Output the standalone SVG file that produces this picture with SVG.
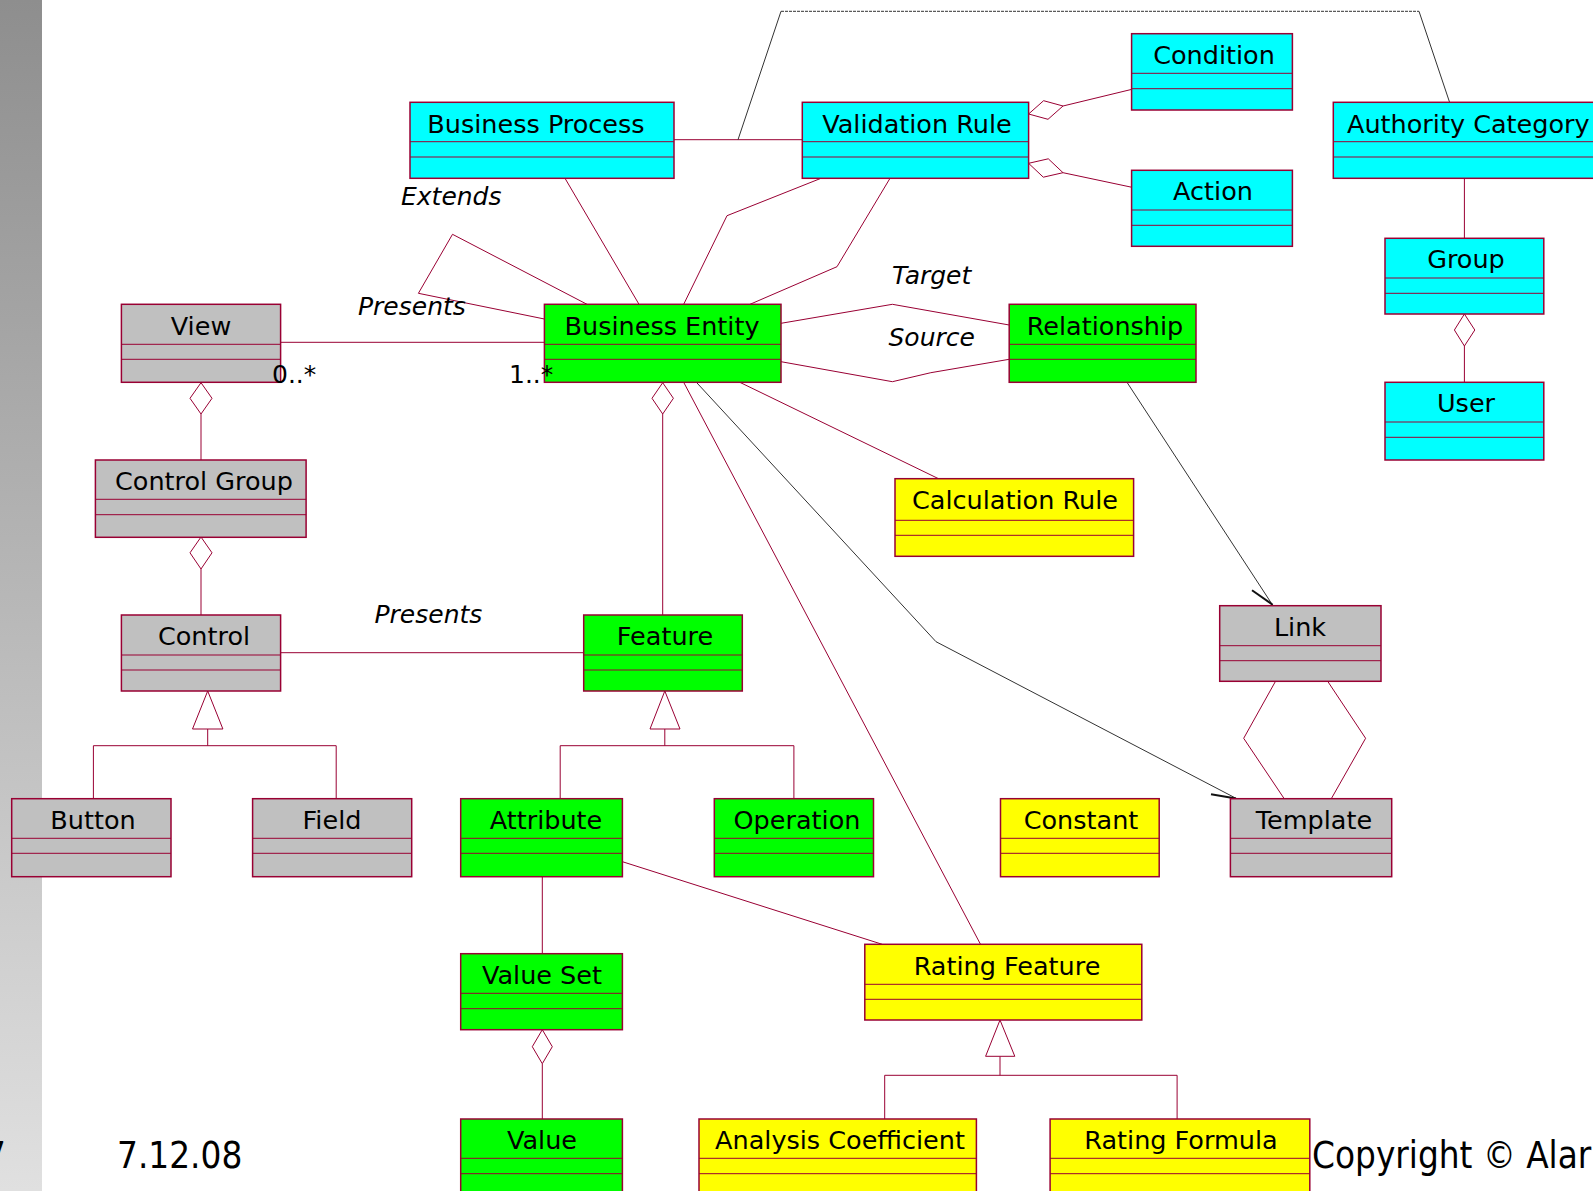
<svg xmlns="http://www.w3.org/2000/svg" width="1593" height="1191" viewBox="0 0 1593 1191">
  <defs>
    <linearGradient id="sidebar" x1="0" y1="0" x2="0" y2="1">
      <stop offset="0" stop-color="#8e8e8e"/>
      <stop offset="1" stop-color="#e0e0e0"/>
    </linearGradient>
  </defs>
  <style>
    .node rect { stroke: #990033; stroke-width: 1.5; }
    .node line { stroke: #990033; stroke-width: 1; }
    .cyan rect { fill: #00ffff; }
    .green rect { fill: #00ff00; }
    .yellow rect { fill: #ffff00; }
    .grey rect { fill: #c0c0c0; }
    text { font-family: "DejaVu Sans", "Liberation Sans", sans-serif; fill: #000; }
    .name { font-size: 25.5px; text-anchor: middle; }
    .role { font-size: 25px; font-style: italic; }
    .mult { font-size: 25px; }
    .footer { font-family: "DejaVu Sans Condensed", "DejaVu Sans", sans-serif; font-stretch: condensed; font-size: 36.5px; }
    .conn { fill: none; stroke: #990033; stroke-width: 1; }
    .agg { fill: #ffffff; stroke: #990033; stroke-width: 1; }
    .dep { fill: none; stroke: #333333; stroke-width: 1; }
    .dashed { stroke-dasharray: 3 1; }
    .barb { fill: none; stroke: #111111; stroke-width: 2; }
  </style>

  <!-- page side band -->
  <rect x="0" y="0" width="42" height="1191" fill="url(#sidebar)"/>

  <!-- connectors -->
  <g id="connectors">
    <!-- Business Process - Validation Rule -->
    <line class="conn" x1="674" y1="139.7" x2="802" y2="139.7"/>
    <!-- dependency over the top to Authority Category -->
    <line class="dep" x1="738" y1="139.7" x2="781" y2="11.3"/>
    <line class="dep dashed" x1="781" y1="11.3" x2="1419" y2="11.3"/>
    <line class="dep" x1="1419" y1="11.3" x2="1449.6" y2="102.3"/>
    <!-- Validation Rule aggregates Condition -->
    <polyline class="conn" points="1063,106 1132,89.3"/>
    <polygon class="agg" points="1028.6,114 1043.6,100.7 1063,106 1048,119.3"/>
    <!-- Validation Rule aggregates Action -->
    <polyline class="conn" points="1063,172.7 1132,187.3"/>
    <polygon class="agg" points="1028.6,163.3 1048.3,158.8 1063,172.7 1043.3,177.2"/>
    <!-- Business Process - Business Entity -->
    <line class="conn" x1="565" y1="178.3" x2="639" y2="304.3"/>
    <!-- Extends (self association) -->
    <polyline class="conn" points="587,304.3 452.5,234.3 418.4,293.3 544.4,319"/>
    <!-- Validation Rule - Business Entity -->
    <polyline class="conn" points="821,178.3 727,215.7 683.7,304.3"/>
    <polyline class="conn" points="890,178.3 837,266.7 750,304.3"/>
    <!-- View - Business Entity -->
    <line class="conn" x1="280.6" y1="342.3" x2="544.4" y2="342.3"/>
    <!-- Target / Source -->
    <polyline class="conn" points="781,323.3 892.4,304.3 1009.2,325"/>
    <polyline class="conn" points="781,361.7 892.4,381.7 930.8,372.7 1009.2,359.3"/>
    <!-- Authority Category - Group -->
    <line class="conn" x1="1464.4" y1="178.3" x2="1464.4" y2="238.3"/>
    <!-- Group aggregates User -->
    <line class="conn" x1="1464.4" y1="346" x2="1464.4" y2="382.3"/>
    <polygon class="agg" points="1464.4,314 1454.4,330 1464.4,346 1474.8,330"/>
    <!-- Relationship navigates to Link -->
    <line class="dep" x1="1127" y1="382.3" x2="1273" y2="605.7"/>
    <line class="barb" x1="1252" y1="590.3" x2="1272.7" y2="604.8"/>
    <!-- View aggregates Control Group -->
    <line class="conn" x1="201" y1="414" x2="201" y2="460"/>
    <polygon class="agg" points="201,382.7 190,398.3 201,414 212,398.3"/>
    <!-- Control Group aggregates Control -->
    <line class="conn" x1="201" y1="569" x2="201" y2="615"/>
    <polygon class="agg" points="201,537 190,552.8 201,569 212,552.8"/>
    <!-- Control - Feature -->
    <line class="conn" x1="280.6" y1="652.7" x2="584" y2="652.7"/>
    <!-- Business Entity aggregates Feature -->
    <line class="conn" x1="662.7" y1="414" x2="662.7" y2="615"/>
    <polygon class="agg" points="662.7,382.7 652,398.3 662.7,414 673.4,398.3"/>
    <!-- Control generalisation -->
    <polyline class="conn" points="93.4,799 93.4,745.7 336.2,745.7 336.2,799"/>
    <line class="conn" x1="207.7" y1="729" x2="207.7" y2="745.7"/>
    <polygon class="agg" points="207.7,691 192.5,729 222.9,729"/>
    <!-- Feature generalisation -->
    <polyline class="conn" points="560.2,799 560.2,745.7 793.9,745.7 793.9,799"/>
    <line class="conn" x1="664.8" y1="729" x2="664.8" y2="745.7"/>
    <polygon class="agg" points="664.8,691 650,729 680,729"/>
    <!-- Business Entity - Rating Feature -->
    <line class="conn" x1="683.7" y1="382.3" x2="980.5" y2="944.3"/>
    <!-- Business Entity navigates to Template -->
    <polyline class="dep" points="696.4,382.3 936,641.7 1236,798.3"/>
    <line class="barb" x1="1211" y1="794.3" x2="1236" y2="798.6"/>
    <!-- Business Entity - Calculation Rule -->
    <line class="conn" x1="739.8" y1="382.3" x2="938.5" y2="478.7"/>
    <!-- Link - Template -->
    <polyline class="conn" points="1275.5,681.3 1243.7,738.3 1284.2,798.7"/>
    <polyline class="conn" points="1327.7,681.3 1365.6,738.3 1331.3,798.7"/>
    <!-- Attribute - Value Set -->
    <line class="conn" x1="542.3" y1="876.7" x2="542.3" y2="953.7"/>
    <!-- Value Set aggregates Value -->
    <line class="conn" x1="542.3" y1="1063.7" x2="542.3" y2="1119"/>
    <polygon class="agg" points="542.3,1029.7 532.3,1046.7 542.3,1063.7 552.3,1046.7"/>
    <!-- Attribute - Rating Feature -->
    <line class="conn" x1="622.4" y1="861.7" x2="882.2" y2="944.3"/>
    <!-- Rating Feature generalisation -->
    <polyline class="conn" points="884.7,1119 884.7,1075.3 1177.1,1075.3 1177.1,1119"/>
    <line class="conn" x1="1000" y1="1056.3" x2="1000" y2="1075.3"/>
    <polygon class="agg" points="1000,1020 985.6,1056.3 1014.8,1056.3"/>

    <!-- association labels -->
    <text class="role" x="401" y="205">Extends</text>
    <text class="role" x="358" y="315">Presents</text>
    <text class="role" x="374.5" y="623">Presents</text>
    <text class="role" x="892" y="284">Target</text>
    <text class="role" x="888.5" y="346">Source</text>
  </g>

  <!-- classes -->
  <g id="business-process" class="node cyan">
    <rect x="410" y="102.3" width="264" height="76"/>
    <line x1="410" y1="141.7" x2="674" y2="141.7"/><line x1="410" y1="157" x2="674" y2="157"/>
    <text class="name" x="536" y="132.5">Business Process</text>
  </g>
  <g id="validation-rule" class="node cyan">
    <rect x="802.3" y="102.3" width="226.3" height="76"/>
    <line x1="802.3" y1="141.7" x2="1028.6" y2="141.7"/><line x1="802.3" y1="157" x2="1028.6" y2="157"/>
    <text class="name" x="917" y="132.5">Validation Rule</text>
  </g>
  <g id="condition" class="node cyan">
    <rect x="1131.6" y="33.7" width="160.8" height="76.3"/>
    <line x1="1131.6" y1="73.3" x2="1292.4" y2="73.3"/><line x1="1131.6" y1="88.7" x2="1292.4" y2="88.7"/>
    <text class="name" x="1214" y="64">Condition</text>
  </g>
  <g id="action" class="node cyan">
    <rect x="1131.6" y="170.3" width="160.8" height="76"/>
    <line x1="1131.6" y1="210" x2="1292.4" y2="210"/><line x1="1131.6" y1="225.3" x2="1292.4" y2="225.3"/>
    <text class="name" x="1213" y="200">Action</text>
  </g>
  <g id="authority-category" class="node cyan">
    <rect x="1333.3" y="102.3" width="280" height="76"/>
    <line x1="1333.3" y1="141.7" x2="1613" y2="141.7"/><line x1="1333.3" y1="157" x2="1613" y2="157"/>
    <text class="name" x="1347" y="132.5" style="text-anchor:start">Authority Category</text>
  </g>
  <g id="group" class="node cyan">
    <rect x="1385" y="238.3" width="158.8" height="75.7"/>
    <line x1="1385" y1="278" x2="1543.8" y2="278"/><line x1="1385" y1="293.3" x2="1543.8" y2="293.3"/>
    <text class="name" x="1466" y="268">Group</text>
  </g>
  <g id="user" class="node cyan">
    <rect x="1385" y="382.3" width="158.8" height="77.7"/>
    <line x1="1385" y1="422" x2="1543.8" y2="422"/><line x1="1385" y1="437.3" x2="1543.8" y2="437.3"/>
    <text class="name" x="1466" y="412">User</text>
  </g>
  <g id="view" class="node grey">
    <rect x="121.4" y="304.3" width="159.2" height="78"/>
    <line x1="121.4" y1="344.3" x2="280.6" y2="344.3"/><line x1="121.4" y1="359.3" x2="280.6" y2="359.3"/>
    <text class="name" x="201" y="335">View</text>
  </g>
  <g id="business-entity" class="node green">
    <rect x="544.4" y="304.3" width="236.6" height="78"/>
    <line x1="544.4" y1="344.3" x2="781" y2="344.3"/><line x1="544.4" y1="359.3" x2="781" y2="359.3"/>
    <text class="name" x="662" y="335">Business Entity</text>
  </g>
  <g id="relationship" class="node green">
    <rect x="1009.2" y="304.3" width="186.8" height="78"/>
    <line x1="1009.2" y1="344.3" x2="1196" y2="344.3"/><line x1="1009.2" y1="359.3" x2="1196" y2="359.3"/>
    <text class="name" x="1105" y="335">Relationship</text>
  </g>
  <g id="control-group" class="node grey">
    <rect x="95.4" y="460" width="210.7" height="77.3"/>
    <line x1="95.4" y1="499.3" x2="306.1" y2="499.3"/><line x1="95.4" y1="514.7" x2="306.1" y2="514.7"/>
    <text class="name" x="204" y="490">Control Group</text>
  </g>
  <g id="calculation-rule" class="node yellow">
    <rect x="895" y="478.7" width="238.6" height="77.6"/>
    <line x1="895" y1="520.3" x2="1133.6" y2="520.3"/><line x1="895" y1="535.3" x2="1133.6" y2="535.3"/>
    <text class="name" x="1015" y="509">Calculation Rule</text>
  </g>
  <g id="control" class="node grey">
    <rect x="121.4" y="615" width="159.2" height="76"/>
    <line x1="121.4" y1="655" x2="280.6" y2="655"/><line x1="121.4" y1="670" x2="280.6" y2="670"/>
    <text class="name" x="204" y="645">Control</text>
  </g>
  <g id="feature" class="node green">
    <rect x="583.7" y="615" width="158.6" height="76"/>
    <line x1="583.7" y1="655" x2="742.3" y2="655"/><line x1="583.7" y1="670" x2="742.3" y2="670"/>
    <text class="name" x="665" y="645">Feature</text>
  </g>
  <g id="link" class="node grey">
    <rect x="1219.7" y="605.7" width="161.3" height="75.6"/>
    <line x1="1219.7" y1="645.7" x2="1381" y2="645.7"/><line x1="1219.7" y1="660.7" x2="1381" y2="660.7"/>
    <text class="name" x="1300" y="636">Link</text>
  </g>
  <g id="button" class="node grey">
    <rect x="11.7" y="798.7" width="159.3" height="78"/>
    <line x1="11.7" y1="838.3" x2="171" y2="838.3"/><line x1="11.7" y1="853.3" x2="171" y2="853.3"/>
    <text class="name" x="93" y="829">Button</text>
  </g>
  <g id="field" class="node grey">
    <rect x="252.6" y="798.7" width="159.1" height="78"/>
    <line x1="252.6" y1="838.3" x2="411.7" y2="838.3"/><line x1="252.6" y1="853.3" x2="411.7" y2="853.3"/>
    <text class="name" x="332" y="829">Field</text>
  </g>
  <g id="attribute" class="node green">
    <rect x="460.7" y="798.7" width="161.7" height="78"/>
    <line x1="460.7" y1="838.3" x2="622.4" y2="838.3"/><line x1="460.7" y1="853.3" x2="622.4" y2="853.3"/>
    <text class="name" x="546" y="829">Attribute</text>
  </g>
  <g id="operation" class="node green">
    <rect x="714.3" y="798.7" width="159.2" height="78"/>
    <line x1="714.3" y1="838.3" x2="873.5" y2="838.3"/><line x1="714.3" y1="853.3" x2="873.5" y2="853.3"/>
    <text class="name" x="797" y="829">Operation</text>
  </g>
  <g id="constant" class="node yellow">
    <rect x="1000.5" y="798.7" width="158.7" height="78"/>
    <line x1="1000.5" y1="838.3" x2="1159.2" y2="838.3"/><line x1="1000.5" y1="853.3" x2="1159.2" y2="853.3"/>
    <text class="name" x="1081" y="829">Constant</text>
  </g>
  <g id="template" class="node grey">
    <rect x="1230.4" y="798.7" width="161.3" height="78"/>
    <line x1="1230.4" y1="838.3" x2="1391.7" y2="838.3"/><line x1="1230.4" y1="853.3" x2="1391.7" y2="853.3"/>
    <text class="name" x="1314" y="829">Template</text>
  </g>
  <g id="value-set" class="node green">
    <rect x="460.7" y="953.7" width="161.7" height="76"/>
    <line x1="460.7" y1="993.3" x2="622.4" y2="993.3"/><line x1="460.7" y1="1008.7" x2="622.4" y2="1008.7"/>
    <text class="name" x="542" y="984">Value Set</text>
  </g>
  <g id="rating-feature" class="node yellow">
    <rect x="864.8" y="944.3" width="277" height="75.7"/>
    <line x1="864.8" y1="984.3" x2="1141.8" y2="984.3"/><line x1="864.8" y1="999.3" x2="1141.8" y2="999.3"/>
    <text class="name" x="1007" y="975">Rating Feature</text>
  </g>
  <g id="value" class="node green">
    <rect x="460.7" y="1119" width="161.7" height="78"/>
    <line x1="460.7" y1="1158.3" x2="622.4" y2="1158.3"/><line x1="460.7" y1="1173.7" x2="622.4" y2="1173.7"/>
    <text class="name" x="542" y="1149">Value</text>
  </g>
  <g id="analysis-coefficient" class="node yellow">
    <rect x="699" y="1119" width="277.4" height="78"/>
    <line x1="699" y1="1158.3" x2="976.4" y2="1158.3"/><line x1="699" y1="1173.7" x2="976.4" y2="1173.7"/>
    <text class="name" x="840" y="1149">Analysis Coefficient</text>
  </g>
  <g id="rating-formula" class="node yellow">
    <rect x="1050.1" y="1119" width="259.7" height="78"/>
    <line x1="1050.1" y1="1158.3" x2="1309.8" y2="1158.3"/><line x1="1050.1" y1="1173.7" x2="1309.8" y2="1173.7"/>
    <text class="name" x="1181" y="1149">Rating Formula</text>
  </g>

  <!-- multiplicities sit above the class boxes -->
  <text class="mult" x="272" y="383">0..*</text>
  <text class="mult" x="509" y="383">1..*</text>

  <!-- footer -->
  <text class="footer" x="6" y="1168" text-anchor="end">7</text>
  <text class="footer" x="117" y="1168">7.12.08</text>
  <text class="footer" x="1312" y="1168">Copyright © Alar</text>
</svg>
